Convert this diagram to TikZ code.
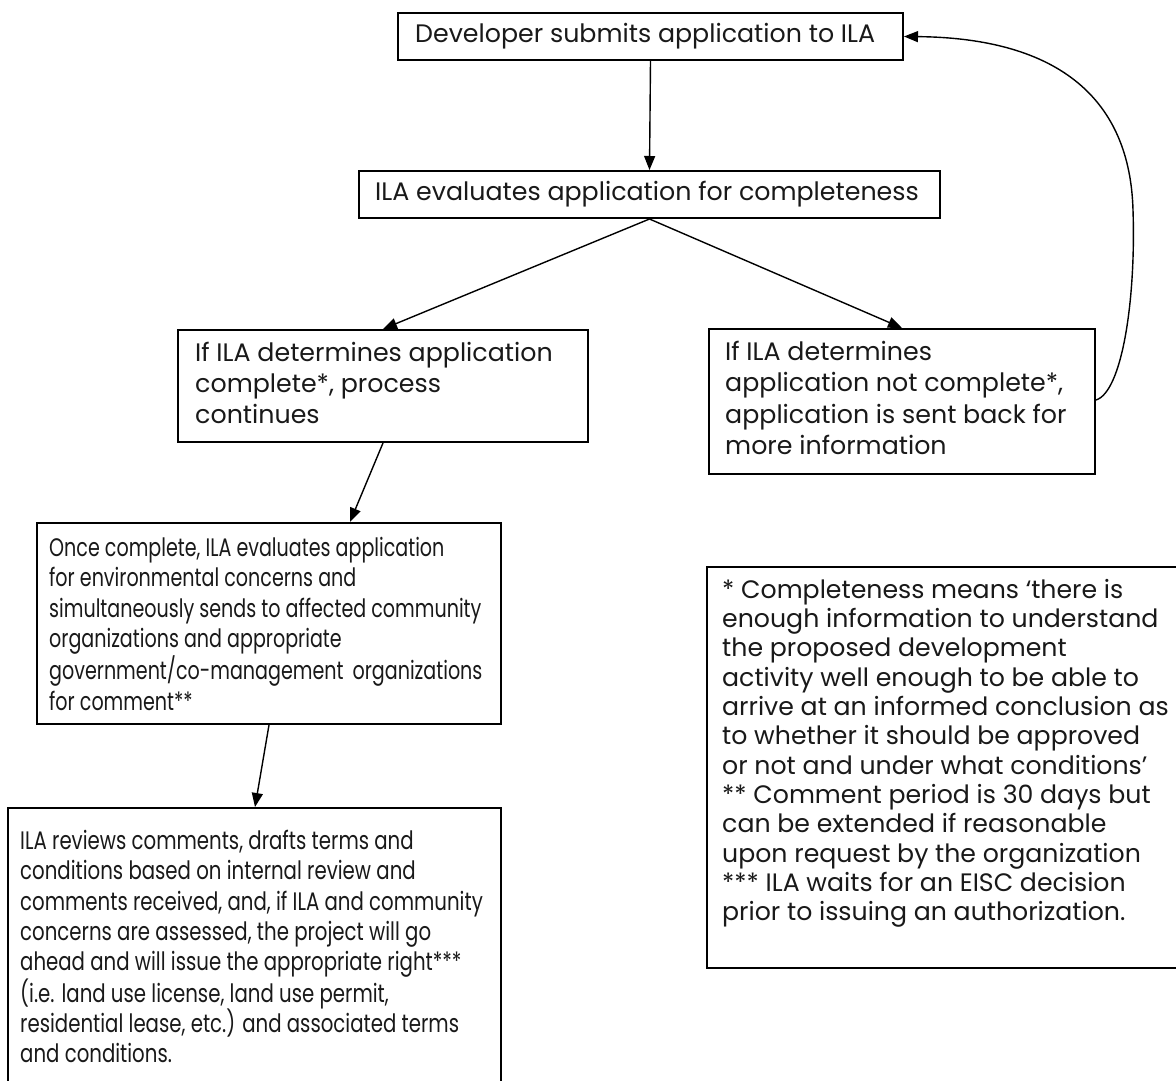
\documentclass[tikz,border=0pt]{standalone}
\usepackage{fontspec}
\setmainfont{Poppins}
\newfontfamily\gf{Poppins}
\newfontfamily\gfc[FakeStretch=0.78]{Poppins}
\newfontfamily\gfd[FakeStretch=0.755]{Poppins}
\usetikzlibrary{arrows.meta,calc}
\tikzset{
  box/.style={draw=black, line width=2pt, inner sep=0pt, anchor=north west},
  txt/.style={inner sep=0pt, align=left, anchor=north west, text=black!90},
  arr/.style={draw=black, line width=1.4pt, -{Triangle[length=14pt,width=11pt]}},
}
\begin{document}
\begin{tikzpicture}[x=1pt,y=-1pt]
\clip (0,0) rectangle (1176,1081);
\fill[white] (0,0) rectangle (1176,1081);
% boxes
\node[box, minimum width=505pt, minimum height=47pt] (b1) at (397,12) {};
\node[box, minimum width=581pt, minimum height=47pt] (b2) at (358,170) {};
\node[box, minimum width=410pt, minimum height=112pt] (b3) at (177,329) {};
\node[box, minimum width=386pt, minimum height=145pt] (b4) at (708,328) {};
\node[box, minimum width=464pt, minimum height=201pt] (b5) at (36,522) {};
\node[box, minimum width=493pt, minimum height=300pt] (b6) at (7,807) {};
\node[box, minimum width=490pt, minimum height=401pt] (b7) at (706,566) {};
% texts
\node[txt, font=\gf\fontsize{25.3}{31}\selectfont] (t1) at (415,23) {Developer submits application to ILA};
\node[txt, font=\gf\fontsize{25.3}{31}\selectfont] (t2) at (375,181) {ILA evaluates application for completeness};
\node[txt, font=\gf\fontsize{25.3}{31}\selectfont] (t3) at (195,342) {If ILA determines application\\complete*, process\\continues};
\node[txt, font=\gf\fontsize{25.3}{31.3}\selectfont] (t4) at (725,341) {If ILA determines\\application not complete*,\\application is sent back for\\more information};
\node[txt, font=\gfd\fontsize{25.3}{30.5}\selectfont] (t5) at (49,537) {Once complete, ILA evaluates application\\for environmental concerns and\\simultaneously sends to affected community\\organizations and appropriate\\government/co-management\hspace{4pt} organizations\\for comment**};
\node[txt, font=\gfc\fontsize{25.3}{30.3}\selectfont] (t6) at (20,830) {ILA reviews comments, drafts terms and\\conditions based on internal review and\\comments received, and, if ILA and community\\concerns are assessed, the project will go\\ahead and will issue the appropriate right***\\(i.e. land use license, land use permit,\\residential lease, etc.) and associated terms\\and conditions.};
\node[txt, font=\gf\fontsize{25.2}{29.3}\selectfont] (t7) at (722,579) {* Completeness means ‘there is\\enough information to understand\\the proposed development\\activity well enough to be able to\\arrive at an informed conclusion as\\to whether it should be approved\\or not and under what conditions’\\** Comment period is 30 days but\\can be extended if reasonable\\upon request by the organization\\*** ILA waits for an EISC decision\\prior to issuing an authorization.};
% connectors
\draw[arr] (b1.south) -- (b2.north);
\draw[arr] (b2.south) -- (b3.north);
\draw[arr] (b2.south) -- (b4.north);
\draw[arr] (b3.south) -- ($(b5.north west)+(314,0)$);
\draw[arr] (b5.south) -- ($(b6.north west)+(248,0)$);
\draw[arr] ($(b4.north east)+(0,72)$) .. controls (1122,392) and (1136,300) .. (1133,210)
  .. controls (1130,100) and (1060,38) .. (b1.east);
\end{tikzpicture}
\end{document}
